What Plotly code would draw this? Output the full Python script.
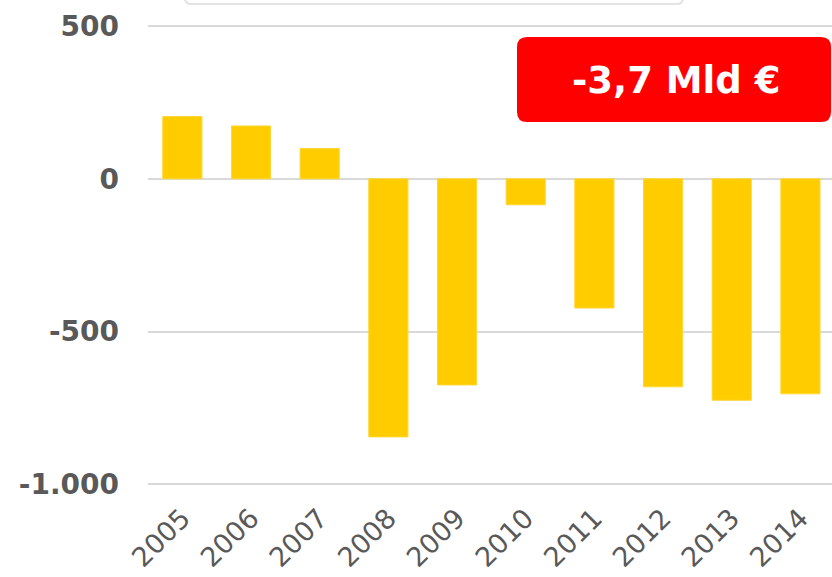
import plotly.graph_objects as go

# values (Mio €)
years = ['2005', '2006', '2007', '2008', '2009', '2010', '2011', '2012', '2013', '2014']
saldo = [204, 173, 99, -845, -675, -85, -423, -681, -725, -704]

y_tick_vals = [500, 0, -500, -1000]
y_tick_text = ['500', '0', '-500', '-1.000']

badge_text = '-3,7 Mld €'

W, H = 832, 577
ML, MR, MT, MB = 148, 0, 20, 83
PW, PH = W - ML - MR, H - MT - MB
GREY = '#595959'
FONT = 'DejaVu Sans'


def px_x(x):
    return (x - ML) / PW


def px_y(y):
    return (H - MB - y) / PH


def rounded_rect(x0, y0, x1, y1, r):
    # path in paper coords from a pixel box
    a, b, c, d = px_x(x0), px_y(y0), px_x(x1), px_y(y1)
    rx, ry = r / PW, r / PH
    return (f'M {a + rx},{b} L {c - rx},{b} Q {c},{b} {c},{b - ry} '
            f'L {c},{d + ry} Q {c},{d} {c - rx},{d} '
            f'L {a + rx},{d} Q {a},{d} {a},{d + ry} '
            f'L {a},{b - ry} Q {a},{b} {a + rx},{b} Z')


fig = go.Figure()
fig.add_trace(go.Bar(
    x=years, y=saldo,
    marker=dict(color='#ffcc00', line=dict(color='#ffd633', width=1)),
    width=0.57,
))

# cut-off box at the very top
fig.add_shape(type='path', xref='paper', yref='paper',
              path=rounded_rect(185, -30, 683, 4, 6),
              fillcolor='white', line=dict(color='#e3e3e3', width=2), layer='above')

# red badge
fig.add_shape(type='path', xref='paper', yref='paper',
              path=rounded_rect(517, 37, 831, 122, 10),
              fillcolor='#ff0000', line=dict(width=0), layer='above')
fig.add_annotation(x=px_x(676), y=px_y(80), xref='paper', yref='paper',
                   xanchor='center', yanchor='middle',
                   text=badge_text, showarrow=False,
                   font=dict(family=FONT, size=37, color='white', weight='bold'))

fig.update_layout(
    width=W, height=H,
    margin=dict(l=ML, r=MR, t=MT, b=MB, autoexpand=False),
    plot_bgcolor='white', paper_bgcolor='white',
    showlegend=False,
    font=dict(family=FONT, color=GREY),
)
fig.update_xaxes(
    range=[-0.5, 9.46], tickangle=-45, automargin=False,
    tickfont=dict(family=FONT, size=27, color=GREY),
    showgrid=False, zeroline=False, showline=False,
    ticklabelstandoff=2,
)
fig.update_yaxes(
    range=[-1032, 520], automargin=False,
    tickvals=y_tick_vals, ticktext=y_tick_text,
    tickfont=dict(family=FONT, size=28, color=GREY, weight='bold'),
    showgrid=True, gridcolor='#d9d9d9', gridwidth=2,
    zeroline=True, zerolinecolor='#d9d9d9', zerolinewidth=2,
    showline=False, ticklabelstandoff=28,
)

# drop the page's default body margin so the figure fills the window
fig.write_html('out.html', config={'displayModeBar': False},
               post_script="document.body.style.margin='0';")
